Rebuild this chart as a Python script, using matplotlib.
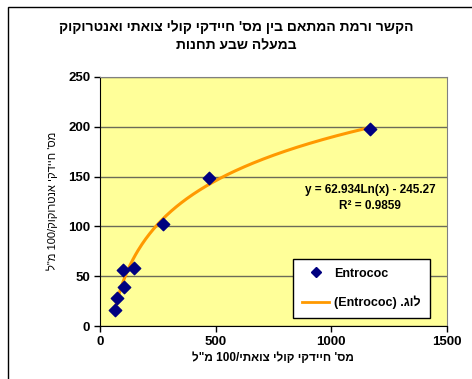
import re
import numpy as np
import matplotlib
matplotlib.use('Agg')
import matplotlib.pyplot as plt
from matplotlib.lines import Line2D
from matplotlib.patches import Rectangle

plt.rcParams['font.family'] = ['Liberation Sans', 'DejaVu Sans']

# Data
coli = [65, 72, 104, 101, 147, 274, 469, 1166]
entero = [16, 28, 39, 56, 58, 102, 149, 198]
fit_a, fit_b = 62.934, -245.27
x_ticks = [0, 500, 1000, 1500]
y_ticks = [0, 50, 100, 150, 200, 250]

title_lines = ["הקשר ורמת המתאם בין מס' חיידקי קולי צואתי ואנטרוקוק",
               "במעלה שבע תחנות"]
x_title = "מס' חיידקי קולי צואתי/100 מ\"ל"
y_title = "מס' חיידקי אנטרוקוק/100 מ\"ל"
series_name = "Entrococ"
trend_name = "לוג. (Entrococ)"
eq_text = "y = 62.934Ln(x) - 245.27"
r2_text = "R² = 0.9859"


def rtl(s):
    # visual order for a right-to-left line: reverse, keep latin/digit runs LTR
    v = s[::-1]
    v = re.sub(r'[A-Za-z0-9]+', lambda m: m.group()[::-1], v)
    return v.translate(str.maketrans('()', ')('))


fig = plt.figure(figsize=(4.72, 3.79), dpi=100)
ax = fig.add_axes([0.2119, 0.1398, 0.7351, 0.6574])
ax.set_facecolor('#FFFF99')

ax.set_xlim(0, 1500)
ax.set_ylim(0, 250)
ax.set_xticks(x_ticks)
ax.set_yticks(y_ticks)
ax.yaxis.grid(True, color='#6b6b58', lw=1)
ax.set_axisbelow(True)
ax.tick_params(direction='out', length=4, width=1, labelsize=9.5, pad=3)
for lab in ax.get_xticklabels() + ax.get_yticklabels():
    lab.set_fontweight('bold')
for s in ['top', 'right']:
    ax.spines[s].set_color('#808080')
for s in ['left', 'bottom']:
    ax.spines[s].set_color('black')

# trendline
xs = np.linspace(min(coli), max(coli), 200)
ax.plot(xs, fit_a * np.log(xs) + fit_b, color='#FF9900', lw=2.2, zorder=2)
ax.scatter(coli, entero, marker='D', s=40, color='#000080', zorder=3)

# equation box, figure pixel coords
fig.text(370 / 472, 1 - 190 / 379, eq_text, ha='center', va='center',
         fontsize=8.5, fontweight='bold')
fig.text(370 / 472, 1 - 206 / 379, r2_text, ha='center', va='center',
         fontsize=8.5, fontweight='bold')

fig.text(0.5, 1 - 27 / 379, rtl(title_lines[0]), ha='center', va='center',
         fontsize=10, fontweight='bold')
fig.text(0.5, 1 - 45 / 379, rtl(title_lines[1]), ha='center', va='center',
         fontsize=10, fontweight='bold')
fig.text(273 / 472, 1 - 358 / 379, rtl(x_title), ha='center', va='center',
         fontsize=8.5, fontweight='bold')
fig.text(52 / 472, 1 - 201 / 379, rtl(y_title), ha='center', va='center',
         fontsize=8, rotation=90)

handles = [Line2D([], [], marker='D', ls='none', color='#000080', markersize=5),
           Line2D([], [], color='#FF9900', lw=2)]
leg = fig.legend(handles, [series_name, rtl(trend_name)], loc='upper left',
                 bbox_to_anchor=(293 / 472, 1 - 259 / 379), borderaxespad=0,
                 prop={'size': 9, 'weight': 'bold'}, fancybox=False,
                 labelspacing=1.3, handlelength=2.2, handletextpad=0.4,
                 borderpad=0.7, framealpha=1)
leg.get_frame().set_edgecolor('black')
leg.get_frame().set_linewidth(1)

fig.add_artist(Rectangle((8 / 472, -0.1), 1.2, 1.1 - 7 / 379, transform=fig.transFigure,
                         fill=False, edgecolor='black', lw=1))

fig.savefig('out.png', dpi=100)
